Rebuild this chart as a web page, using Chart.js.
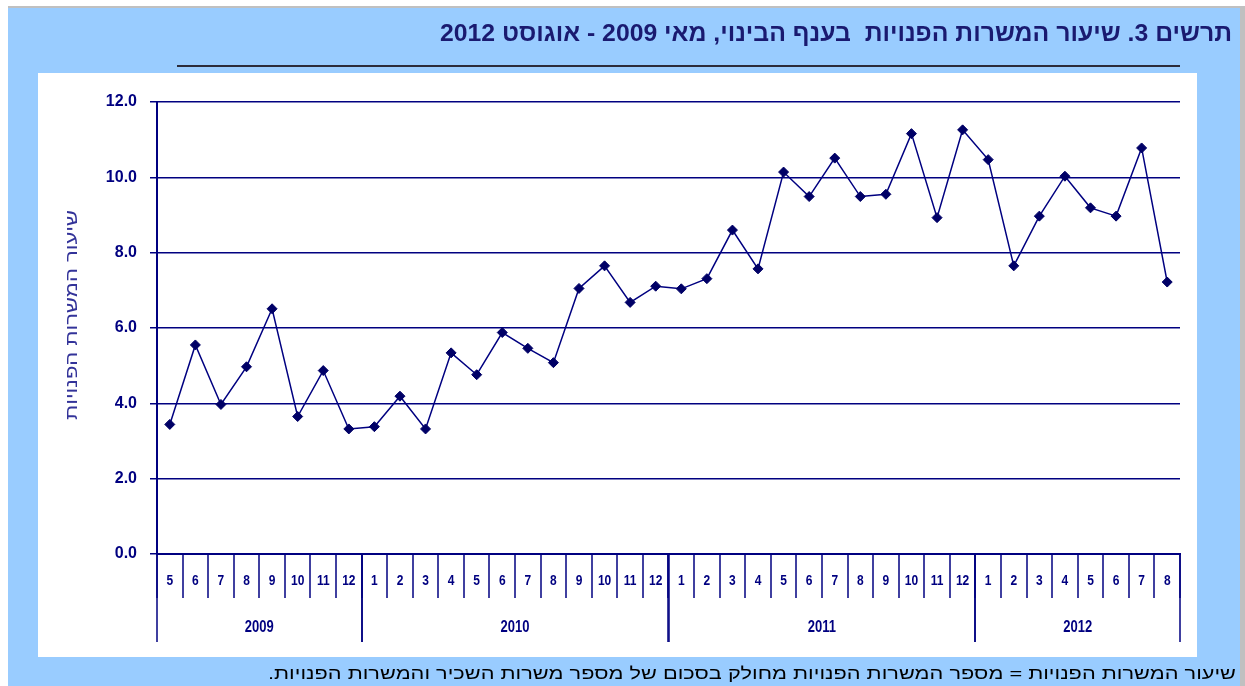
<!DOCTYPE html>
<html>
<head>
<meta charset="utf-8">
<script src="https://cdn.jsdelivr.net/npm/chart.js@4"></script>
<style>
  html, body { margin: 0; padding: 0; background: #fff; }
  #wrap { width: 1245px; height: 686px; }
</style>
</head>
<body>
<div id="wrap"><canvas id="myChart" width="1245" height="686"></canvas></div>
<script>
// month of each point (May 2009 - Aug 2012)
const months = [
  '5', '6', '7', '8', '9', '10', '11', '12',
  '1', '2', '3', '4', '5', '6', '7', '8', '9', '10', '11', '12',
  '1', '2', '3', '4', '5', '6', '7', '8', '9', '10', '11', '12',
  '1', '2', '3', '4', '5', '6', '7', '8',
];
const years = ['2009', '2010', '2011', '2012'];
const yearCounts = [8, 12, 12, 8];

// job vacancy rate, construction
const vacancyRate = [
  3.44, 5.55, 3.97, 4.97, 6.51, 3.65, 4.87, 3.32,
  3.38, 4.19, 3.32, 5.34, 4.76, 5.88, 5.46, 5.08, 7.05, 7.65, 6.68, 7.11,
  7.04, 7.31, 8.60, 7.57, 10.14, 9.49, 10.51, 9.49, 9.55, 11.16, 8.93, 11.26,
  10.47, 7.65, 8.97, 10.03, 9.19, 8.97, 10.78, 7.22,
];

const titleText = 'תרשים 3. שיעור המשרות הפנויות  בענף הבינוי, מאי 2009 - אוגוסט 2012';
const yTitleText = 'שיעור המשרות הפנויות';
const footText = 'שיעור המשרות הפנויות = מספר המשרות הפנויות מחולק בסכום של מספר משרות השכיר והמשרות הפנויות.';

const navy = '#000080';
const FONT = '"Liberation Sans", Arial, sans-serif';

// labels like 5/2009
const labels = [];
let k = 0;
yearCounts.forEach((n, yi) => {
  for (let j = 0; j < n; j++) {
    labels.push(months[k] + '/' + years[yi]);
    k++;
  }
});

function fitText(ctx, str, xRight, yMid, font, color, width) {
  ctx.save();
  ctx.font = font;
  ctx.fillStyle = color;
  ctx.direction = 'rtl';
  ctx.textAlign = 'right';
  ctx.textBaseline = 'middle';
  const w = ctx.measureText(str).width;
  const sx = width ? width / w : 1;
  ctx.translate(xRight, yMid);
  ctx.scale(sx, 1);
  ctx.fillText(str, 0, 0);
  ctx.restore();
}

const framePlugin = {
  id: 'frame',
  beforeDraw(chart) {
    const ctx = chart.ctx;
    ctx.save();
    ctx.fillStyle = '#ffffff';
    ctx.fillRect(0, 0, 1245, 686);
    ctx.fillStyle = '#c0c0c0';
    ctx.fillRect(8, 6, 1237, 2);
    ctx.fillRect(1240, 6, 5, 680);
    ctx.fillStyle = '#99ccff';
    ctx.fillRect(8, 8, 1232, 678);
    ctx.fillStyle = '#ffffff';
    ctx.fillRect(38, 73, 1159, 584);
    // underline of the title
    ctx.fillStyle = '#2b2b3a';
    ctx.fillRect(177, 65, 1003, 2);
    ctx.restore();

    fitText(ctx, titleText, 1232, 34, 'bold 24px ' + FONT, '#1a1a70', 792);
    fitText(ctx, footText, 1236, 674, '17px ' + FONT, '#000000', 968);

    // y axis title, turned counter-clockwise
    ctx.save();
    ctx.translate(72, 315);
    ctx.rotate(-Math.PI / 2);
    ctx.font = '17px ' + FONT;
    ctx.fillStyle = '#333399';
    ctx.direction = 'rtl';
    ctx.textAlign = 'center';
    ctx.textBaseline = 'middle';
    const w = ctx.measureText(yTitleText).width;
    ctx.scale(210 / w, 1);
    ctx.fillText(yTitleText, 0, 0);
    ctx.restore();
  },
  afterDraw(chart) {
    const ctx = chart.ctx;
    const x = chart.scales.x;
    const bottom = chart.chartArea.bottom;
    const step = x.getPixelForValue(1) - x.getPixelForValue(0);
    ctx.save();
    ctx.strokeStyle = navy;
    ctx.lineWidth = 1.5;
    ctx.fillStyle = navy;
    ctx.textAlign = 'center';
    ctx.textBaseline = 'middle';

    // month separators and labels
    ctx.font = 'bold 12px ' + FONT;
    for (let i = 0; i <= labels.length; i++) {
      const px = Math.round(x.getPixelForValue(i) - step / 2);
      ctx.beginPath();
      ctx.moveTo(px, bottom);
      ctx.lineTo(px, bottom + 44);
      ctx.stroke();
    }
    for (let i = 0; i < labels.length; i++) {
      ctx.save();
      ctx.translate(x.getPixelForValue(i), bottom + 27);
      ctx.scale(1, 1.25);
      ctx.fillText(months[i], 0, 0);
      ctx.restore();
    }

    // year separators and labels
    ctx.font = 'bold 13px ' + FONT;
    let start = 0;
    yearCounts.forEach((n, yi) => {
      const x0 = x.getPixelForValue(start) - step / 2;
      const x1 = x.getPixelForValue(start + n - 1) + step / 2;
      [x0, x1].forEach((px) => {
        ctx.beginPath();
        ctx.moveTo(Math.round(px), bottom);
        ctx.lineTo(Math.round(px), bottom + 88);
        ctx.stroke();
      });
      ctx.save();
      ctx.translate((x0 + x1) / 2, bottom + 74);
      ctx.scale(1, 1.25);
      ctx.fillText(years[yi], 0, 0);
      ctx.restore();
      start += n;
    });
    ctx.restore();
  },
};

const ctx = document.getElementById('myChart');

new Chart(ctx, {
  type: 'line',
  data: {
    labels: labels,
    datasets: [
      {
        label: yTitleText,
        data: vacancyRate,
        borderColor: navy,
        borderWidth: 1.5,
        pointStyle: 'rectRot',
        pointRadius: 5,
        pointBorderWidth: 1,
        pointBackgroundColor: '#000066',
        pointBorderColor: '#000066',
        tension: 0,
        clip: false,
      },
    ],
  },
  options: {
    responsive: false,
    devicePixelRatio: 1,
    animation: false,
    events: [],
    layout: {
      padding: { left: 0, right: 65, top: 102, bottom: 0 },
    },
    plugins: {
      legend: { display: false },
      title: { display: false },
      tooltip: { enabled: false },
    },
    scales: {
      x: {
        offset: true,
        afterFit: (s) => { s.height = 132; },
        ticks: { display: false },
        grid: { display: false },
        border: { display: true, color: navy, width: 2 },
      },
      y: {
        min: 0,
        max: 12,
        afterFit: (s) => { s.width = 157; },
        ticks: {
          stepSize: 2,
          padding: 13,
          color: navy,
          font: { family: FONT, size: 16, weight: 'bold' },
          callback: (v) => v.toFixed(1),
        },
        grid: { color: navy, lineWidth: 1.5, tickLength: 7 },
        border: { display: true, color: navy, width: 2 },
      },
    },
  },
  plugins: [framePlugin],
});
</script>
</body>
</html>
